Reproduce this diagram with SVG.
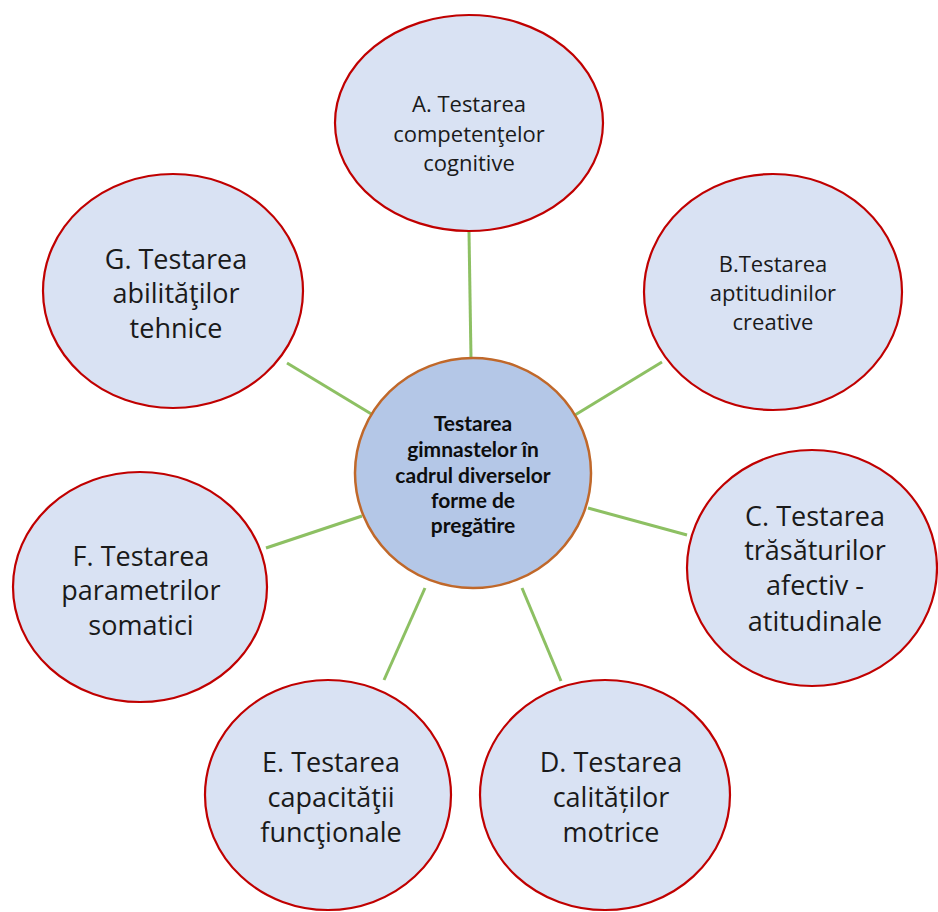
<svg xmlns="http://www.w3.org/2000/svg" width="938" height="912" viewBox="0 0 938 912">
<style>
.node ellipse{fill:#d9e2f3;stroke:#c00000;stroke-width:2.2}
.node text{font-family:"Open Sans","Liberation Sans",sans-serif;fill:#1a1a1a;text-anchor:middle}
.sm{font-size:22px}
.lg{font-size:27px}
#center ellipse{fill:#b4c7e7;stroke:#c0682a;stroke-width:2.5}
#center text{font-family:Lato,"Liberation Sans",sans-serif;font-weight:bold;font-size:21px;fill:#0d0d0d;text-anchor:middle}
#connectors line{stroke:#8dc063;stroke-width:3}
</style>
<rect width="938" height="912" fill="#ffffff"/>
<g id="connectors">
<line x1="469" y1="232" x2="471" y2="358"/>
<line x1="662" y1="362" x2="575" y2="415"/>
<line x1="287" y1="363" x2="373" y2="415"/>
<line x1="687" y1="535" x2="588" y2="508"/>
<line x1="266" y1="548" x2="362" y2="516"/>
<line x1="384" y1="680" x2="425" y2="588"/>
<line x1="561" y1="681" x2="522" y2="588"/>
</g>
<g id="nodeA" class="node">
<ellipse cx="469" cy="123" rx="134" ry="108"/>
<text class="sm" x="469" y="112">A. Testarea</text>
<text class="sm" x="469" y="142">competenţelor</text>
<text class="sm" x="469" y="171">cognitive</text>
</g>
<g id="nodeB" class="node">
<ellipse cx="773" cy="292" rx="129" ry="118"/>
<text class="sm" x="773" y="272">B.Testarea</text>
<text class="sm" x="773" y="301">aptitudinilor</text>
<text class="sm" x="773" y="330">creative</text>
</g>
<g id="nodeC" class="node">
<ellipse cx="812" cy="568" rx="125" ry="118"/>
<text class="lg" x="815" y="526">C. Testarea</text>
<text class="lg" x="815" y="560">trăsăturilor</text>
<text class="lg" x="815" y="595">afectiv -</text>
<text class="lg" x="815" y="631">atitudinale</text>
</g>
<g id="nodeD" class="node">
<ellipse cx="605" cy="795" rx="125" ry="115"/>
<text class="lg" x="611" y="772">D. Testarea</text>
<text class="lg" x="611" y="807">calităților</text>
<text class="lg" x="611" y="842">motrice</text>
</g>
<g id="nodeE" class="node">
<ellipse cx="328" cy="795" rx="123" ry="115"/>
<text class="lg" x="331" y="772">E. Testarea</text>
<text class="lg" x="331" y="807">capacităţii</text>
<text class="lg" x="331" y="842">funcţionale</text>
</g>
<g id="nodeF" class="node">
<ellipse cx="140" cy="587" rx="127" ry="115"/>
<text class="lg" x="141" y="566">F. Testarea</text>
<text class="lg" x="141" y="600">parametrilor</text>
<text class="lg" x="141" y="635">somatici</text>
</g>
<g id="nodeG" class="node">
<ellipse cx="173" cy="291" rx="130" ry="117"/>
<text class="lg" x="176" y="269">G. Testarea</text>
<text class="lg" x="176" y="303">abilităţilor</text>
<text class="lg" x="176" y="338">tehnice</text>
</g>
<g id="center">
<ellipse cx="473" cy="473" rx="118" ry="115"/>
<text x="473" y="431">Testarea</text>
<text x="473" y="457">gimnastelor în</text>
<text x="473" y="483">cadrul diverselor</text>
<text x="473" y="508">forme de</text>
<text x="473" y="533">pregătire</text>
</g>
</svg>
